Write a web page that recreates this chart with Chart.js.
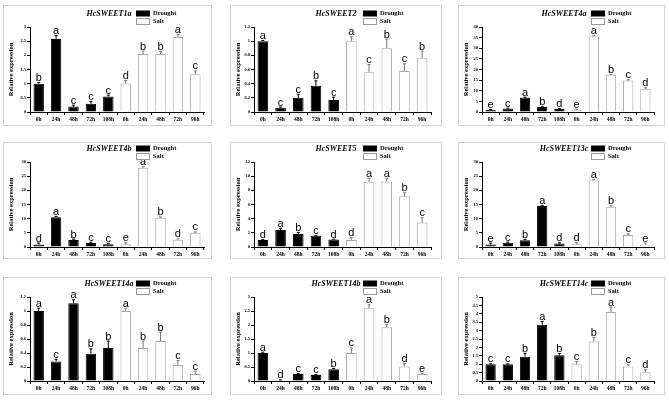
<!DOCTYPE html>
<html>
<head>
<meta charset="utf-8">
<script src="https://cdn.jsdelivr.net/npm/chart.js@4.4.1/dist/chart.umd.min.js"></script>
<style>
  body { margin: 0; background: #fff; width: 669px; height: 402px; position: relative; overflow: hidden; }
  .frame { position: absolute; box-sizing: border-box; border: 1px solid #d2d2d2; }
  canvas { position: absolute; }
</style>
</head>
<body>
<script>
// ── data ─────────────────────────────────────
const hours = ['0h', '24h', '48h', '72h', '108h', '0h', '24h', '48h', '72h', '96h'];
const genes = ['HcSWEET1a', 'HcSWEET2', 'HcSWEET4a', 'HcSWEET4b', 'HcSWEET5',
               'HcSWEET13c', 'HcSWEET14a', 'HcSWEET14b', 'HcSWEET14c'];

const yMax  = [3, 1.2, 40, 30, 12, 30, 1.2, 3, 5];
const yStep = [0.5, 0.2, 5, 5, 2, 5, 0.2, 0.5, 0.5];

const sweet1aDrought = [1.0, 2.58, 0.19, 0.29, 0.55];
const sweet1aSalt    = [1.01, 2.05, 2.05, 2.65, 1.33];
const sweet1aErr     = [0.04, 0.12, 0.05, 0.08, 0.05, 0.10, 0.10, 0.08, 0.08, 0.12];
const sweet1aSig     = ['b', 'a', 'c', 'c', 'c', 'd', 'b', 'b', 'a', 'c'];

const sweet2Drought = [1.0, 0.06, 0.20, 0.37, 0.17];
const sweet2Salt    = [1.0, 0.56, 0.90, 0.58, 0.76];
const sweet2Err     = [0.01, 0.01, 0.05, 0.07, 0.04, 0.06, 0.11, 0.13, 0.10, 0.10];
const sweet2Sig     = ['a', 'c', 'c', 'b', 'c', 'a', 'c', 'b', 'c', 'b'];

const sweet4aDrought = [1.0, 1.6, 6.8, 2.3, 1.4];
const sweet4aSalt    = [1.0, 35.5, 17.5, 14.8, 11.0];
const sweet4aErr     = [0.2, 0.2, 0.2, 0.2, 0.2, 0.3, 0.4, 0.3, 0.4, 0.4];
const sweet4aSig     = ['e', 'c', 'a', 'b', 'd', 'e', 'a', 'b', 'c', 'd'];

const sweet4bDrought = [0.9, 10.5, 2.5, 1.4, 1.0];
const sweet4bSalt    = [1.0, 28.0, 10.3, 2.6, 5.0];
const sweet4bErr     = [0.5, 0.3, 0.3, 0.3, 0.3, 0.5, 0.3, 0.3, 0.3, 0.3];
const sweet4bSig     = ['d', 'a', 'b', 'c', 'c', 'e', 'a', 'b', 'd', 'c'];

const sweet5Drought = [1.0, 2.4, 1.85, 1.6, 1.05];
const sweet5Salt    = [1.0, 9.2, 9.25, 7.15, 3.45];
const sweet5Err     = [0.05, 0.25, 0.2, 0.05, 0.05, 0.3, 0.5, 0.45, 0.5, 0.7];
const sweet5Sig     = ['d', 'a', 'b', 'c', 'd', 'd', 'a', 'a', 'b', 'c'];

const sweet13cDrought = [0.9, 1.5, 2.4, 14.5, 1.2];
const sweet13cSalt    = [1.0, 23.5, 14.2, 4.2, 0.8];
const sweet13cErr     = [0.5, 0.2, 0.3, 0.2, 0.3, 0.5, 0.3, 0.3, 0.5, 0.6];
const sweet13cSig     = ['e', 'c', 'b', 'a', 'd', 'd', 'a', 'b', 'c', 'e'];

const sweet14aDrought = [1.0, 0.28, 1.11, 0.39, 0.47];
const sweet14aSalt    = [1.0, 0.47, 0.57, 0.23, 0.10];
const sweet14aErr     = [0.04, 0.03, 0.05, 0.07, 0.10, 0.04, 0.10, 0.13, 0.06, 0.04];
const sweet14aSig     = ['a', 'c', 'a', 'b', 'b', 'a', 'b', 'b', 'c', 'c'];

const sweet14bDrought = [1.0, 0.03, 0.25, 0.21, 0.42];
const sweet14bSalt    = [1.0, 2.6, 1.92, 0.52, 0.25];
const sweet14bErr     = [0.03, 0.01, 0.02, 0.02, 0.03, 0.18, 0.12, 0.10, 0.10, 0.03];
const sweet14bSig     = ['a', 'd', 'c', 'c', 'b', 'c', 'a', 'b', 'd', 'e'];

const sweet14cDrought = [1.0, 1.0, 1.45, 3.35, 1.53];
const sweet14cSalt    = [1.0, 2.35, 4.1, 0.87, 0.52];
const sweet14cErr     = [0.02, 0.02, 0.2, 0.2, 0.1, 0.15, 0.25, 0.3, 0.1, 0.15];
const sweet14cSig     = ['c', 'c', 'b', 'a', 'b', 'c', 'b', 'a', 'c', 'd'];

const droughtSets = [sweet1aDrought, sweet2Drought, sweet4aDrought, sweet4bDrought, sweet5Drought,
                     sweet13cDrought, sweet14aDrought, sweet14bDrought, sweet14cDrought];
const saltSets    = [sweet1aSalt, sweet2Salt, sweet4aSalt, sweet4bSalt, sweet5Salt,
                     sweet13cSalt, sweet14aSalt, sweet14bSalt, sweet14cSalt];
const errSets     = [sweet1aErr, sweet2Err, sweet4aErr, sweet4bErr, sweet5Err,
                     sweet13cErr, sweet14aErr, sweet14bErr, sweet14cErr];
const sigSets     = [sweet1aSig, sweet2Sig, sweet4aSig, sweet4bSig, sweet5Sig,
                     sweet13cSig, sweet14aSig, sweet14bSig, sweet14cSig];

// ── layout ───────────────────────────────────
const cols = [
  { x: 3,   w: 209, l: 27, r: 8  },
  { x: 230, w: 212, l: 24, r: 11 },
  { x: 458, w: 207, l: 24, r: 11 },
];
const rows = [
  { y: 5,   h: 121, t: 22, b: 14, head: 9 },
  { y: 142, h: 117, t: 20, b: 12, head: 7 },
  { y: 277, h: 118, t: 20, b: 14, head: 7 },
];

const SERIF = "'Liberation Serif', 'Times New Roman', serif";

// error bars, letters, gene name and legend
const decorate = {
  id: 'decorate',
  afterDatasetsDraw(chart, args, o) {
    const ctx = chart.ctx;
    const y = chart.scales.y;
    ctx.save();
    chart.data.datasets.forEach((ds, di) => {
      chart.getDatasetMeta(di).data.forEach((bar, j) => {
        const v = ds.data[j];
        if (v == null) return;
        const yTop = y.getPixelForValue(v + o.err[j]);
        const yBar = y.getPixelForValue(v);
        ctx.strokeStyle = di === 0 ? '#000' : '#777';
        ctx.lineWidth = 1;
        ctx.beginPath();
        ctx.moveTo(bar.x, yBar);
        ctx.lineTo(bar.x, yTop);
        ctx.moveTo(bar.x - 1.5, yTop);
        ctx.lineTo(bar.x + 1.5, yTop);
        ctx.stroke();
        ctx.fillStyle = '#000';
        ctx.font = "11px 'Liberation Sans', Arial, sans-serif";
        ctx.textAlign = 'center';
        ctx.textBaseline = 'alphabetic';
        ctx.fillText(o.sig[j], bar.x, yTop - 1.5);
      });
    });
    ctx.restore();
  },
  afterDraw(chart, args, o) {
    const ctx = chart.ctx;
    ctx.save();
    ctx.fillStyle = '#000';
    ctx.textBaseline = 'middle';
    ctx.textAlign = 'center';
    ctx.font = `italic bold 8px ${SERIF}`;
    ctx.fillText(o.gene, 106, o.head);

    const bx = 133, bw = 14, bh = 6;
    ctx.fillRect(bx, o.head - 3.5, bw, bh);
    ctx.strokeStyle = '#999';
    ctx.lineWidth = 1;
    ctx.strokeRect(bx + 0.5, o.head + 4.5, bw - 1, bh);
    ctx.textAlign = 'left';
    ctx.font = `bold 6.5px ${SERIF}`;
    ctx.fillText('Drought', bx + bw + 3, o.head - 0.5);
    ctx.fillText('Salt', bx + bw + 3, o.head + 7.5);
    ctx.restore();
  },
};

genes.forEach((gene, i) => {
  const c = cols[i % 3], r = rows[Math.floor(i / 3)];

  const frame = document.createElement('div');
  frame.className = 'frame';
  Object.assign(frame.style, { left: c.x + 'px', top: r.y + 'px', width: c.w + 'px', height: r.h + 'px' });
  document.body.appendChild(frame);

  const canvas = document.createElement('canvas');
  canvas.width = c.w; canvas.height = r.h;
  Object.assign(canvas.style, { left: c.x + 'px', top: r.y + 'px', width: c.w + 'px', height: r.h + 'px' });
  document.body.appendChild(canvas);

  const drought = [...droughtSets[i], null, null, null, null, null];
  const salt    = [null, null, null, null, null, ...saltSets[i]];

  new Chart(canvas, {
    type: 'bar',
    data: {
      labels: hours,
      datasets: [
        { label: 'Drought', data: drought, backgroundColor: '#000', borderColor: '#000', borderWidth: 1 },
        { label: 'Salt',    data: salt,    backgroundColor: '#fff', borderColor: '#a8a8a8', borderWidth: 1 },
      ],
    },
    options: {
      responsive: false,
      animation: false,
      events: [],
      grouped: false,
      barPercentage: 0.6,
      categoryPercentage: 1,
      layout: { padding: { top: r.t, right: c.r, left: 0, bottom: 0 } },
      plugins: {
        legend: { display: false },
        tooltip: { enabled: false },
        decorate: { gene, head: r.head, err: errSets[i], sig: sigSets[i] },
      },
      scales: {
        x: {
          grid:   { drawOnChartArea: false, tickLength: 3, color: '#000', offset: true },
          border: { color: '#000', width: 1 },
          ticks:  { color: '#000', padding: 1, maxRotation: 0, autoSkip: false,
                    font: { family: SERIF, size: 5.5, weight: 'bold' } },
          afterFit: s => { s.height = r.b; },
        },
        y: {
          min: 0,
          max: yMax[i],
          grid:   { drawOnChartArea: false, tickLength: 3, color: '#000' },
          border: { color: '#000', width: 1 },
          ticks:  { stepSize: yStep[i], color: '#000', padding: 1,
                    font: { family: SERIF, size: 4.5, weight: 'bold' },
                    callback: v => String(Math.round(v * 10) / 10) },
          title:  { display: true, text: 'Relative expression', color: '#000',
                    padding: { top: 4, bottom: 0 },
                    font: { family: SERIF, size: 6.5, weight: 'bold' } },
          afterFit: s => { s.width = c.l; },
        },
      },
    },
    plugins: [decorate],
  });
});
</script>
</body>
</html>
